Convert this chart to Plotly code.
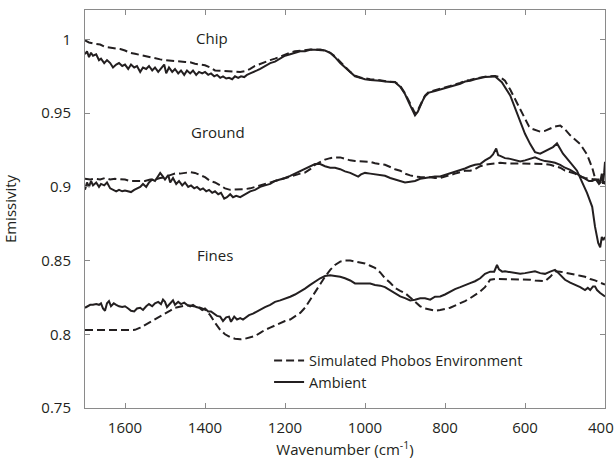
import plotly.graph_objects as go

# ---- data: (wavenumber cm^-1, emissivity) ----
chip_ambient = [
    (1700, 0.990), (1695, 0.992), (1690, 0.988), (1685, 0.991), (1680, 0.989), (1672, 0.990),
    (1665, 0.986), (1660, 0.987), (1652, 0.984), (1645, 0.986), (1637, 0.984), (1630, 0.981),
    (1622, 0.983), (1615, 0.984), (1607, 0.982), (1600, 0.983), (1592, 0.980), (1585, 0.983),
    (1577, 0.981), (1570, 0.982), (1562, 0.978), (1555, 0.981), (1547, 0.980), (1540, 0.982),
    (1532, 0.979), (1525, 0.981), (1517, 0.978), (1510, 0.980), (1502, 0.983), (1497, 0.977),
    (1490, 0.981), (1482, 0.978), (1475, 0.980), (1467, 0.977), (1460, 0.979), (1452, 0.976),
    (1445, 0.979), (1437, 0.977), (1430, 0.979), (1422, 0.976), (1415, 0.978), (1407, 0.977),
    (1400, 0.978), (1392, 0.976), (1385, 0.977), (1377, 0.975), (1370, 0.976), (1362, 0.974),
    (1355, 0.975), (1347, 0.9735), (1340, 0.974), (1332, 0.973), (1325, 0.975), (1317, 0.974),
    (1310, 0.975), (1302, 0.9745), (1295, 0.976), (1287, 0.977), (1280, 0.978), (1270, 0.979),
    (1262, 0.980), (1250, 0.982), (1237, 0.984), (1225, 0.985), (1212, 0.987), (1200, 0.989),
    (1187, 0.990), (1175, 0.991), (1162, 0.992), (1150, 0.992), (1137, 0.993), (1125, 0.993),
    (1112, 0.993), (1100, 0.9925), (1087, 0.991), (1075, 0.988), (1062, 0.984), (1050, 0.981),
    (1037, 0.9775), (1025, 0.975), (1012, 0.974), (1000, 0.973), (987, 0.9725), (975, 0.9725),
    (962, 0.972), (950, 0.9715), (937, 0.971), (925, 0.971), (912, 0.968), (900, 0.963),
    (890, 0.957), (882, 0.952), (875, 0.9485), (868, 0.951), (862, 0.955), (855, 0.959),
    (850, 0.9615), (840, 0.964), (825, 0.965), (812, 0.966), (800, 0.967), (787, 0.968),
    (775, 0.969), (762, 0.970), (750, 0.9715), (737, 0.972), (725, 0.973), (712, 0.974),
    (700, 0.9745), (687, 0.9748), (675, 0.975), (671, 0.974), (658, 0.971), (637, 0.962),
    (621, 0.951), (608, 0.941), (600, 0.936), (587, 0.929), (575, 0.9236), (562, 0.9225),
    (545, 0.9246), (530, 0.927), (520, 0.9295), (505, 0.9225), (487, 0.9167), (470, 0.911),
    (457, 0.903), (445, 0.896), (432, 0.8865), (425, 0.873), (417, 0.862), (412, 0.859),
    (408, 0.866), (404, 0.864), (400, 0.866),
]

chip_simulated = [
    (1700, 0.9993), (1690, 0.998), (1675, 0.997), (1662, 0.9966), (1650, 0.995), (1637, 0.9945),
    (1625, 0.994), (1612, 0.9935), (1600, 0.9925), (1587, 0.991), (1575, 0.9903), (1562, 0.9895),
    (1550, 0.989), (1537, 0.988), (1525, 0.987), (1512, 0.9865), (1500, 0.986), (1487, 0.9858),
    (1475, 0.9855), (1462, 0.985), (1450, 0.9848), (1437, 0.9845), (1425, 0.9835), (1412, 0.983),
    (1400, 0.9825), (1387, 0.981), (1375, 0.979), (1362, 0.9788), (1350, 0.9787), (1337, 0.9786),
    (1325, 0.9786), (1312, 0.978), (1300, 0.9785), (1287, 0.980), (1275, 0.982), (1262, 0.9835),
    (1250, 0.985), (1237, 0.986), (1225, 0.987), (1212, 0.9885), (1200, 0.990), (1187, 0.991),
    (1175, 0.992), (1162, 0.9925), (1150, 0.993), (1137, 0.9932), (1125, 0.9932), (1112, 0.9932),
    (1100, 0.9925), (1087, 0.991), (1075, 0.9885), (1062, 0.9845), (1050, 0.9815), (1037, 0.978),
    (1025, 0.9755), (1012, 0.9742), (1000, 0.9735), (987, 0.973), (975, 0.9728), (962, 0.9722),
    (950, 0.9718), (937, 0.9713), (925, 0.9712), (912, 0.9685), (900, 0.9635), (890, 0.958),
    (882, 0.953), (875, 0.950), (868, 0.952), (862, 0.9555), (855, 0.9595), (850, 0.962),
    (840, 0.9645), (825, 0.9655), (812, 0.9665), (800, 0.9675), (787, 0.9685), (775, 0.9695),
    (762, 0.9705), (750, 0.972), (737, 0.9725), (725, 0.9735), (712, 0.9742), (700, 0.9748),
    (687, 0.975), (675, 0.9752), (662, 0.9745), (650, 0.972), (637, 0.966), (625, 0.9595),
    (612, 0.953), (600, 0.946), (590, 0.941), (582, 0.9393), (562, 0.9375), (550, 0.938),
    (537, 0.9393), (525, 0.941), (512, 0.9416), (500, 0.939), (487, 0.935), (475, 0.932),
    (462, 0.929), (445, 0.922), (432, 0.913), (425, 0.906), (415, 0.902), (408, 0.904),
    (400, 0.902),
]

ground_ambient = [
    (1700, 0.898), (1695, 0.903), (1690, 0.900), (1685, 0.904), (1680, 0.901), (1672, 0.903),
    (1665, 0.900), (1660, 0.902), (1652, 0.901), (1645, 0.903), (1637, 0.899), (1630, 0.898),
    (1622, 0.897), (1615, 0.898), (1607, 0.897), (1600, 0.8975), (1592, 0.897), (1585, 0.8965),
    (1577, 0.898), (1570, 0.899), (1562, 0.900), (1555, 0.902), (1547, 0.900), (1540, 0.903),
    (1532, 0.905), (1525, 0.904), (1517, 0.907), (1512, 0.9095), (1505, 0.907), (1500, 0.905),
    (1492, 0.908), (1487, 0.903), (1480, 0.906), (1472, 0.902), (1465, 0.904), (1457, 0.901),
    (1450, 0.903), (1442, 0.900), (1435, 0.901), (1427, 0.899), (1420, 0.900), (1412, 0.898),
    (1405, 0.899), (1397, 0.897), (1390, 0.898), (1382, 0.896), (1375, 0.897), (1367, 0.895),
    (1360, 0.896), (1352, 0.892), (1345, 0.893), (1337, 0.895), (1330, 0.893), (1322, 0.894),
    (1312, 0.893), (1300, 0.895), (1287, 0.897), (1275, 0.898), (1262, 0.900), (1250, 0.901),
    (1237, 0.902), (1225, 0.904), (1212, 0.905), (1200, 0.906), (1187, 0.9075), (1175, 0.909),
    (1162, 0.911), (1150, 0.912), (1137, 0.914), (1125, 0.9155), (1112, 0.9155), (1100, 0.914),
    (1087, 0.913), (1075, 0.913), (1062, 0.912), (1050, 0.9105), (1037, 0.9095), (1025, 0.908),
    (1017, 0.907), (1010, 0.9085), (1000, 0.9095), (987, 0.909), (975, 0.9085), (962, 0.908),
    (950, 0.9075), (937, 0.906), (925, 0.905), (912, 0.904), (900, 0.903), (887, 0.9035),
    (875, 0.904), (862, 0.9055), (850, 0.906), (837, 0.9065), (825, 0.907), (812, 0.907),
    (800, 0.908), (787, 0.909), (775, 0.910), (762, 0.911), (750, 0.9125), (737, 0.914),
    (725, 0.915), (712, 0.9155), (700, 0.918), (687, 0.920), (680, 0.922), (672, 0.926),
    (667, 0.9215), (662, 0.921), (650, 0.9195), (637, 0.919), (625, 0.918), (612, 0.9172),
    (600, 0.918), (587, 0.919), (575, 0.920), (562, 0.9185), (550, 0.9175), (537, 0.917),
    (525, 0.9164), (512, 0.915), (500, 0.913), (487, 0.9115), (475, 0.9097), (462, 0.9075),
    (450, 0.9055), (440, 0.904), (432, 0.904), (425, 0.905), (417, 0.9045), (412, 0.903),
    (408, 0.909), (405, 0.902), (402, 0.910), (400, 0.917),
]

ground_simulated = [
    (1700, 0.9055), (1687, 0.905), (1675, 0.9055), (1662, 0.905), (1650, 0.906), (1637, 0.905),
    (1625, 0.9055), (1612, 0.9055), (1600, 0.905), (1587, 0.904), (1575, 0.904), (1562, 0.904),
    (1550, 0.904), (1537, 0.905), (1525, 0.905), (1512, 0.906), (1500, 0.9066), (1487, 0.908),
    (1475, 0.909), (1462, 0.909), (1450, 0.9095), (1437, 0.910), (1425, 0.9095), (1412, 0.908),
    (1400, 0.9066), (1387, 0.904), (1375, 0.903), (1362, 0.901), (1350, 0.899), (1337, 0.898),
    (1325, 0.898), (1312, 0.898), (1300, 0.8985), (1287, 0.899), (1275, 0.900), (1262, 0.901),
    (1250, 0.902), (1237, 0.903), (1225, 0.904), (1212, 0.905), (1200, 0.906), (1187, 0.907),
    (1175, 0.908), (1162, 0.909), (1150, 0.9097), (1137, 0.912), (1125, 0.915), (1112, 0.917),
    (1100, 0.9185), (1087, 0.9195), (1075, 0.920), (1062, 0.920), (1050, 0.919), (1037, 0.918),
    (1025, 0.9175), (1012, 0.9175), (1000, 0.9172), (987, 0.917), (975, 0.916), (962, 0.9155),
    (950, 0.915), (937, 0.9135), (925, 0.912), (912, 0.911), (900, 0.909), (887, 0.9078),
    (875, 0.907), (862, 0.9067), (850, 0.9067), (837, 0.9065), (825, 0.906), (812, 0.906),
    (800, 0.907), (787, 0.9078), (775, 0.909), (762, 0.910), (750, 0.911), (737, 0.911),
    (725, 0.912), (712, 0.914), (700, 0.915), (687, 0.9155), (675, 0.916), (662, 0.9163),
    (650, 0.916), (637, 0.916), (625, 0.916), (612, 0.916), (600, 0.916), (587, 0.9157),
    (575, 0.9155), (562, 0.9155), (550, 0.9155), (537, 0.915), (525, 0.914), (512, 0.913),
    (500, 0.911), (487, 0.910), (475, 0.909), (462, 0.907), (450, 0.906), (437, 0.9055),
    (425, 0.905), (412, 0.905), (400, 0.903),
]

fines_ambient = [
    (1700, 0.818), (1695, 0.819), (1687, 0.820), (1680, 0.820), (1672, 0.8205), (1665, 0.820),
    (1660, 0.821), (1655, 0.8175), (1650, 0.816), (1645, 0.821), (1640, 0.8225), (1635, 0.819),
    (1628, 0.821), (1622, 0.820), (1615, 0.819), (1607, 0.8185), (1600, 0.819), (1592, 0.8175),
    (1585, 0.816), (1577, 0.8155), (1570, 0.8175), (1562, 0.818), (1555, 0.8165), (1547, 0.819),
    (1540, 0.8205), (1532, 0.819), (1525, 0.821), (1517, 0.822), (1510, 0.8205), (1505, 0.8235),
    (1500, 0.822), (1495, 0.8185), (1487, 0.821), (1480, 0.823), (1475, 0.820), (1467, 0.822),
    (1460, 0.8205), (1452, 0.8215), (1445, 0.820), (1437, 0.819), (1430, 0.820), (1422, 0.8185),
    (1415, 0.818), (1407, 0.8165), (1400, 0.8175), (1392, 0.8155), (1385, 0.8155), (1377, 0.814),
    (1370, 0.8125), (1362, 0.812), (1355, 0.809), (1347, 0.8115), (1340, 0.812), (1335, 0.8085),
    (1327, 0.812), (1320, 0.810), (1312, 0.811), (1305, 0.810), (1297, 0.8115), (1290, 0.813),
    (1280, 0.814), (1270, 0.8155), (1262, 0.817), (1250, 0.8185), (1237, 0.820), (1225, 0.822),
    (1212, 0.823), (1200, 0.824), (1187, 0.8255), (1175, 0.827), (1162, 0.829), (1150, 0.831),
    (1137, 0.8335), (1125, 0.8358), (1112, 0.838), (1100, 0.8395), (1087, 0.840), (1075, 0.8395),
    (1062, 0.839), (1050, 0.838), (1037, 0.8365), (1025, 0.8345), (1012, 0.8345), (1000, 0.835),
    (987, 0.8345), (975, 0.8335), (962, 0.833), (950, 0.832), (937, 0.830), (925, 0.828),
    (912, 0.8257), (900, 0.8245), (887, 0.823), (875, 0.8235), (862, 0.8245), (850, 0.8245),
    (837, 0.8235), (825, 0.8255), (812, 0.8257), (800, 0.827), (787, 0.829), (775, 0.8307),
    (762, 0.832), (750, 0.8335), (737, 0.8347), (725, 0.836), (712, 0.838), (700, 0.841),
    (687, 0.8425), (677, 0.8425), (670, 0.847), (665, 0.844), (657, 0.8425), (650, 0.8427),
    (637, 0.842), (625, 0.8415), (612, 0.841), (600, 0.8415), (587, 0.842), (575, 0.8427),
    (562, 0.8415), (550, 0.841), (537, 0.8425), (525, 0.8437), (518, 0.842), (510, 0.840),
    (500, 0.837), (487, 0.835), (475, 0.8337), (462, 0.832), (450, 0.830), (443, 0.8315),
    (437, 0.830), (430, 0.8325), (425, 0.8325), (420, 0.830), (412, 0.828), (405, 0.8265),
    (400, 0.8257),
]

fines_simulated = [
    (1700, 0.8029), (1650, 0.803), (1600, 0.8033), (1575, 0.803), (1562, 0.8045), (1550, 0.8063),
    (1537, 0.808), (1525, 0.810), (1512, 0.8123), (1500, 0.814), (1487, 0.816), (1475, 0.818),
    (1462, 0.819), (1450, 0.8195), (1437, 0.8195), (1425, 0.819), (1412, 0.818), (1400, 0.8168),
    (1387, 0.813), (1375, 0.8078), (1362, 0.803), (1350, 0.800), (1337, 0.798), (1325, 0.797),
    (1312, 0.7966), (1300, 0.797), (1287, 0.798), (1275, 0.7988), (1262, 0.801), (1250, 0.803),
    (1237, 0.8045), (1225, 0.806), (1212, 0.8075), (1200, 0.809), (1187, 0.810), (1175, 0.812),
    (1162, 0.8145), (1150, 0.818), (1137, 0.8236), (1125, 0.829), (1112, 0.8347), (1100, 0.839),
    (1087, 0.8437), (1075, 0.847), (1062, 0.8493), (1050, 0.850), (1037, 0.850), (1025, 0.8493),
    (1012, 0.849), (1000, 0.848), (987, 0.8465), (975, 0.845), (962, 0.842), (950, 0.838),
    (937, 0.835), (925, 0.8315), (912, 0.8295), (900, 0.828), (887, 0.825), (875, 0.822),
    (862, 0.819), (850, 0.8175), (837, 0.8165), (825, 0.816), (812, 0.8165), (800, 0.817),
    (787, 0.818), (775, 0.8195), (762, 0.821), (750, 0.8225), (737, 0.8245), (725, 0.8265),
    (712, 0.829), (700, 0.832), (687, 0.837), (675, 0.8375), (662, 0.8375), (650, 0.8375),
    (637, 0.837), (625, 0.837), (612, 0.837), (600, 0.837), (587, 0.837), (575, 0.8365),
    (562, 0.836), (550, 0.836), (537, 0.839), (525, 0.8427), (512, 0.8425), (500, 0.842),
    (487, 0.841), (475, 0.8405), (462, 0.8397), (450, 0.839), (437, 0.8375), (425, 0.8366),
    (412, 0.835), (400, 0.8337),
]

sample_labels = ["Chip", "Ground", "Fines"]
label_positions = [(1382, 1.0012), (1367, 0.9374), (1375, 0.8538)]
legend_names = ["Simulated Phobos Environment", "Ambient"]

x_ticks = [1600, 1400, 1200, 1000, 800, 600]
x_tick_text = ["1600", "1400", "1200", "1000", "800", "600"]
x_edge_tick = 400
x_edge_text = "400"
y_ticks = [0.75, 0.8, 0.85, 0.9, 0.95, 1.0]
y_tick_text = ["0.75", "0.8", "0.85", "0.9", "0.95", "1"]

FONT = "Open Sans, Noto Sans, sans-serif"
INK = "#231f20"
FRAME = "#8a8a8a"

fig = go.Figure()

def add(series, dashed, name, show, legend):
    xs = [p[0] for p in series]
    ys = [p[1] for p in series]
    fig.add_trace(go.Scatter(
        x=xs, y=ys, mode="lines", name=name, showlegend=show, legend=legend,
        line=dict(color=INK, width=2, dash="8px,4px" if dashed else "solid"),
    ))

add(chip_simulated, True, legend_names[0], True, "legend")
add(chip_ambient, False, legend_names[1], True, "legend2")
add(ground_simulated, True, legend_names[0], False, "legend")
add(ground_ambient, False, legend_names[1], False, "legend2")
add(fines_simulated, True, legend_names[0], False, "legend")
add(fines_ambient, False, legend_names[1], False, "legend2")

for txt, (lx, ly) in zip(sample_labels, label_positions):
    fig.add_annotation(x=lx, y=ly, text=txt, showarrow=False,
                       font=dict(family=FONT, size=15, color=INK))

# the edge tick (on the right frame) label sits at the page edge: drawn as an annotation
fig.add_annotation(x=x_edge_tick, xref="x", y=0, yref="paper", yanchor="top",
                   text=x_edge_text, showarrow=False, xshift=-4, yshift=-7,
                   font=dict(family=FONT, size=15, color=INK))

leg_common = dict(xanchor="left", yanchor="middle", bgcolor="rgba(0,0,0,0)",
                  font=dict(size=14.5, color=INK, family=FONT), itemwidth=30)

fig.update_layout(
    width=616, height=465,
    margin=dict(l=85, r=11, t=9, b=56),
    plot_bgcolor="white", paper_bgcolor="white",
    font=dict(family=FONT, size=15, color=INK),
    legend=dict(x=0.354, y=0.119, **leg_common),
    legend2=dict(x=0.354, y=0.065, **leg_common),
)
fig.update_xaxes(
    range=[1700, 400], tickvals=x_ticks, ticktext=x_tick_text,
    ticks="inside", ticklen=5, tickcolor=FRAME,
    showline=True, linecolor=FRAME, linewidth=1, mirror="allticks", showgrid=False,
    zeroline=False, ticklabelstandoff=6,
    title=dict(text="Wavenumber (cm<sup>-1</sup>)", standoff=8, font=dict(size=15)),
)
fig.update_yaxes(
    range=[0.75, 1.02], tickvals=y_ticks, ticktext=y_tick_text, ticks="inside", ticklen=5,
    tickcolor=FRAME, showline=True, linecolor=FRAME, linewidth=1, mirror="allticks",
    showgrid=False, zeroline=False, ticklabelstandoff=10,
    title=dict(text="Emissivity", standoff=22, font=dict(size=15)),
)

fig.write_html("out.html")
